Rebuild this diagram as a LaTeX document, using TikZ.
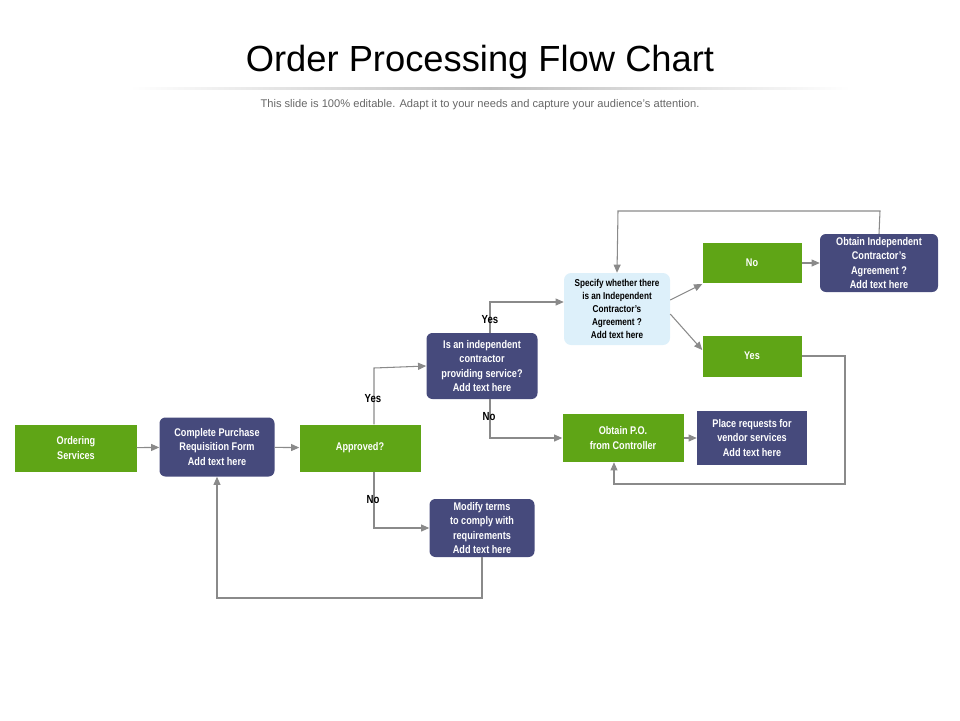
\documentclass[tikz,border=0pt]{standalone}
\usepackage{fontspec}
\setmainfont{Liberation Sans}
\newfontfamily\narrowbf{Liberation Sans}[FakeStretch=0.82]
\usetikzlibrary{arrows.meta}
\definecolor{leaf}{HTML}{5FA516}
\definecolor{ink}{HTML}{464A7C}
\definecolor{sky}{HTML}{DDF0FA}
\definecolor{wire}{HTML}{8A8A8A}
\tikzset{
  base/.style={align=center,inner sep=1pt,font=\narrowbf\bfseries\fontsize{9.5}{12}\selectfont},
  green box/.style={base,fill=leaf,text=white},
  navy box/.style={base,fill=ink,text=white,rounded corners=5pt},
  pale box/.style={base,fill=sky,text=black,rounded corners=6pt,font=\narrowbf\bfseries\fontsize{8.5}{11}\selectfont},
  flow/.style={draw=wire,line width=0.9pt,-{Triangle[length=7pt,width=6pt]}},
  tag/.style={font=\narrowbf\bfseries\fontsize{10}{12}\selectfont}
}
\begin{document}
\begin{tikzpicture}[x=0.03cm,y=-0.03cm]
\useasboundingbox (0,0) rectangle (960,720);
% TITLE
\node (title) at (480,62) {\fontsize{31}{36}\selectfont Order Processing Flow Chart};
\shade[left color=white,right color=white,middle color=black!25] (130,87) rectangle (850,89);
\node (sub) at (480,105) {\color{black!60}\fontsize{9.5}{11}\selectfont This slide is 100\% editable. Adapt it to your needs and capture your audience’s attention.};
% BOXES
\node [green box,minimum width=3.63cm,minimum height=1.41cm] (order) at (76,448) {Ordering\\Services};
\node [navy box,minimum width=3.45cm,minimum height=1.77cm] (form) at (217,447) {Complete Purchase\\Requisition Form\\Add text here};
\node [green box,minimum width=3.63cm,minimum height=1.41cm] (approved) at (360,448) {Approved?};
\node [navy box,minimum width=3.33cm,minimum height=1.98cm] (indep) at (482,366) {Is an independent\\contractor\\providing service?\\Add text here};
\node [navy box,minimum width=3.15cm,minimum height=1.74cm] (modify) at (482,528) {Modify terms\\to comply with\\requirements\\Add text here};
\node [pale box,minimum width=3.18cm,minimum height=2.16cm] (specify) at (617,309) {Specify whether there\\is an Independent\\Contractor’s\\Agreement ?\\Add text here};
\node [green box,minimum width=2.97cm,minimum height=1.2cm] (no) at (752,263) {No};
\node [green box,minimum width=2.97cm,minimum height=1.23cm] (yes) at (752,356) {Yes};
\node [navy box,minimum width=3.54cm,minimum height=1.74cm] (agree) at (879,263) {Obtain Independent\\Contractor’s\\Agreement ?\\Add text here};
\node [green box,minimum width=3.63cm,minimum height=1.44cm] (po) at (623,438) {Obtain P.O.\\from Controller};
\node [navy box,rounded corners=0pt,minimum width=3.3cm,minimum height=1.62cm,drop shadow/.style={}] (place) at (752,438) {Place requests for\\vendor services\\Add text here};
% CONNECTORS
\draw [flow] (order) -- (form);
\draw [flow] (form) -- (approved);
\draw [flow] (approved.north -| 374,0) -- (374,368) -- (indep.west);
\draw [flow] (approved.south -| 374,0) -- (374,528) -- (modify.west);
\draw [flow] (indep.south -| 490,0) -- (490,438) -- (po.west);
\draw [flow] (indep.north -| 490,0) -- (490,302) -- (specify.west |- 0,302);
\draw [flow] (specify.east |- 0,300) -- (no.west |- 0,284) ;
\draw [flow] (specify.east |- 0,314) -- (yes.west |- 0,350);
\draw [flow] (no) -- (agree);
\draw [flow] (agree.north) -- (880,211) -- (618,211) -- (specify.north);
\draw [flow] (yes.east) -- (845,356) -- (845,484) -- (614,484) -- (po.south -| 614,0);
\draw [flow] (po) -- (place);
\draw [flow] (modify.south) -- (482,598) -- (217,598) -- (form.south);
% LABELS
\node [tag] (y1) at (373,399) {Yes};
\node [tag] (n1) at (373,500) {No};
\node [tag] (n2) at (489,417) {No};
\node [tag] (y2) at (490,320) {Yes};
\end{tikzpicture}
\end{document}
